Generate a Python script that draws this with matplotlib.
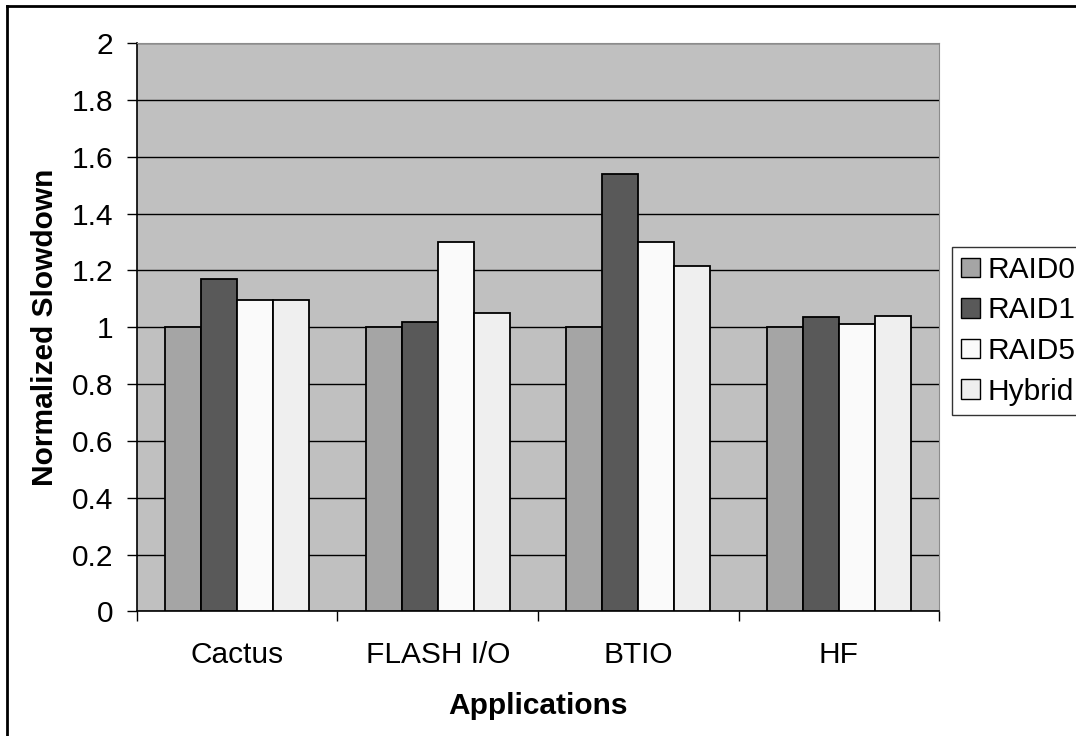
# normalized slowdown of each RAID scheme per application

import numpy as np
import matplotlib
matplotlib.use('Agg')
import matplotlib.pyplot as plt
from matplotlib.lines import Line2D

plt.rcParams['font.family'] = ['Liberation Sans', 'DejaVu Sans']

apps = ['Cactus', 'FLASH I/O', 'BTIO', 'HF']
schemes = ['RAID0', 'RAID1', 'RAID5', 'Hybrid']
raid0 = [1.0, 1.0, 1.0, 1.0]
raid1 = [1.17, 1.02, 1.54, 1.035]
raid5 = [1.095, 1.30, 1.30, 1.01]
hybrid = [1.095, 1.05, 1.215, 1.04]
colors = ['#a5a5a5', '#595959', '#fafafa', '#efefef']

fs = 21.5

fig = plt.figure(figsize=(10.76, 7.36), dpi=100)
ax = fig.add_axes([0.1273, 0.1692, 0.7454, 0.7724])
ax.set_facecolor('#c0c0c0')

x = np.arange(len(apps)) + 0.5
w = 0.18
for k, (vals, name) in enumerate(zip([raid0, raid1, raid5, hybrid], schemes)):
    ax.bar(x + (k - 1.5) * w, vals, w, color=colors[k], edgecolor='black',
           linewidth=1.3, label=name, zorder=3)

ax.set_xlim(0, 4)
ax.set_ylim(0, 2)
ax.set_yticks(np.arange(0, 2.01, 0.2))
ax.set_yticklabels(['0', '0.2', '0.4', '0.6', '0.8', '1', '1.2', '1.4', '1.6', '1.8', '2'])
ax.yaxis.grid(True, color='black', linewidth=1.0, zorder=1)
ax.set_axisbelow(True)

ax.set_xticks(x)
ax.set_xticklabels(apps)
ax.set_xticks(np.arange(0, 5), minor=True)
ax.tick_params(axis='x', which='major', length=0, pad=21, labelsize=fs)
ax.tick_params(axis='x', which='minor', length=7, width=1, direction='out')
ax.tick_params(axis='y', length=7, width=1, direction='out', pad=10, labelsize=fs)

for s in ['top', 'right']:
    ax.spines[s].set_color('#8c8c8c')
for s in ['left', 'bottom']:
    ax.spines[s].set_color('black')
    ax.spines[s].set_linewidth(1.2)

ax.set_xlabel('Applications', fontsize=fs, fontweight='bold', labelpad=17)
ax.set_ylabel('Normalized Slowdown', fontsize=fs, fontweight='bold', labelpad=9)

leg = ax.legend(loc='upper left', bbox_to_anchor=(952 / 1076, (736 - 247) / 736),
                bbox_transform=fig.transFigure, fontsize=fs, frameon=True,
                fancybox=False, borderaxespad=0, borderpad=0.3,
                handlelength=0.64, handleheight=0.64, handletextpad=0.25,
                labelspacing=0.42)
leg.get_frame().set_edgecolor('black')
leg.get_frame().set_linewidth(1.0)
for h in leg.legend_handles:
    h.set_linewidth(1.0)

# frame on the left and top of the figure
fig.add_artist(Line2D([6.5 / 1076, 6.5 / 1076], [0, 1 - 6 / 736], color='black',
                      linewidth=2, transform=fig.transFigure))
fig.add_artist(Line2D([6.5 / 1076, 1], [1 - 6 / 736, 1 - 6 / 736], color='black',
                      linewidth=2, transform=fig.transFigure))

fig.savefig('out.png', dpi=100)
